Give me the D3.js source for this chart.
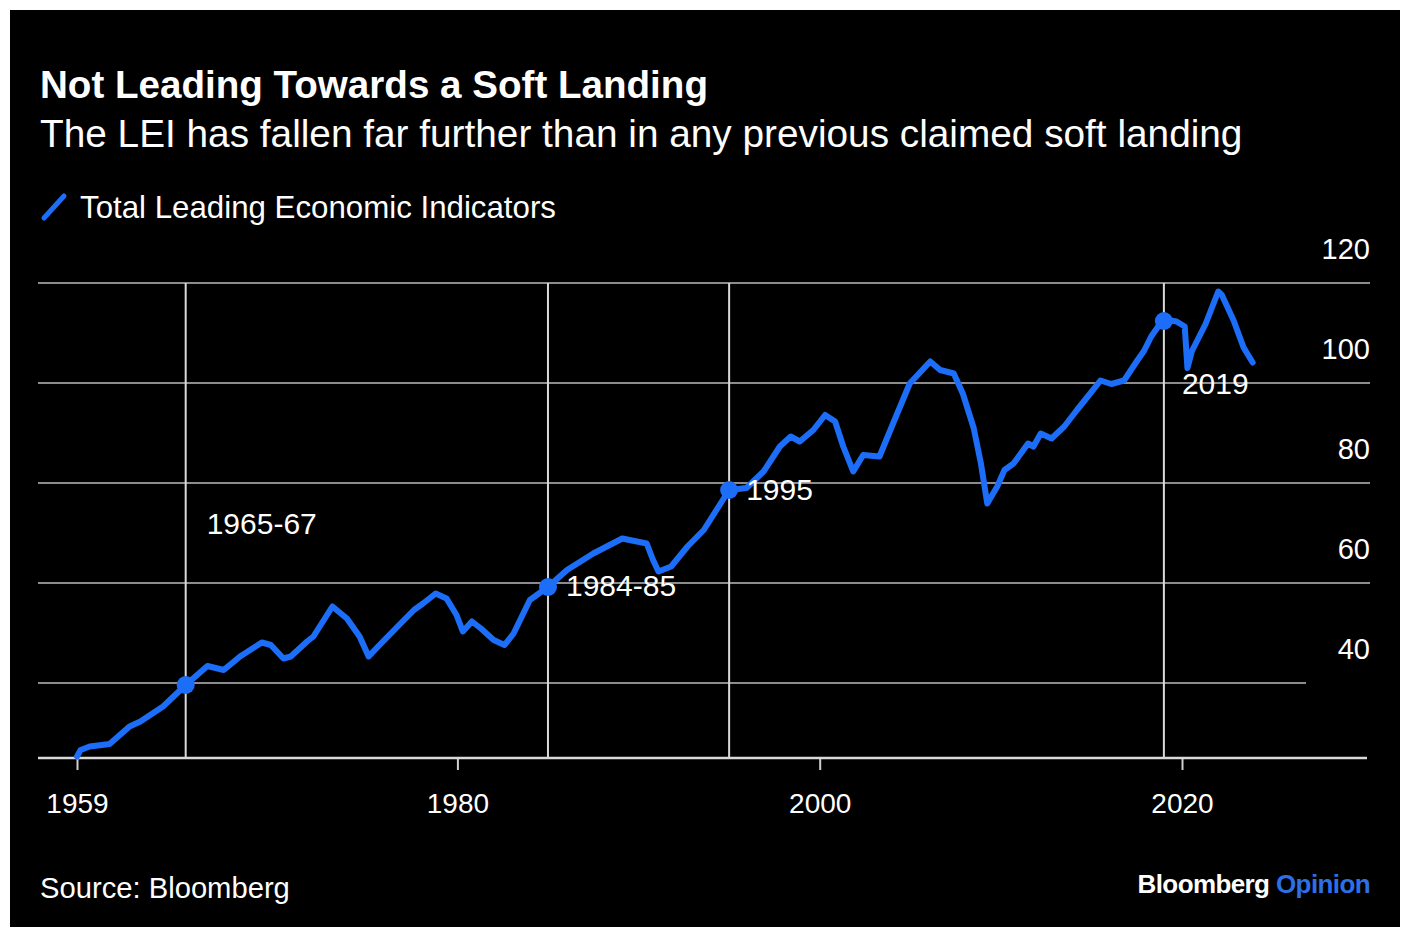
<!DOCTYPE html>
<html>
<head>
<meta charset="utf-8">
<script src="https://cdn.jsdelivr.net/npm/d3@7"></script>
<style>
  html, body { margin: 0; padding: 0; background: #ffffff; }
  svg { display: block; }
  text { font-family: "Liberation Sans", Arial, Helvetica, sans-serif; }
</style>
</head>
<body>
<svg id="chart" width="1403" height="930"></svg>
<script>
// ---------------- DATA ----------------
const title = "Not Leading Towards a Soft Landing";
const subtitle = "The LEI has fallen far further than in any previous claimed soft landing";
const seriesName = "Total Leading Economic Indicators";
const source = "Source: Bloomberg";

// decimal years and index values
const years = [1959.0, 1959.2, 1959.7, 1960.8, 1961.9, 1962.5, 1963.75, 1965.0, 1966.2, 1967.1,
  1968.0, 1969.2, 1969.7, 1970.4, 1970.8, 1971.7, 1972.05, 1973.1, 1973.9, 1974.6,
  1975.1, 1975.7, 1976.7, 1977.6, 1978.1, 1978.8, 1979.4, 1979.95, 1980.3, 1980.8,
  1981.3, 1982.0, 1982.6, 1983.1, 1984.0, 1985.0, 1986.05, 1987.5, 1989.1, 1990.45,
  1990.8, 1991.1, 1991.8, 1992.7, 1993.6, 1994.3, 1995.0, 1995.96, 1996.9, 1997.8,
  1998.4, 1998.9, 1999.65, 2000.3, 2000.85, 2001.3, 2001.85, 2002.4, 2003.3, 2004.05,
  2004.97, 2006.1, 2006.65, 2007.4, 2007.9, 2008.5, 2008.9, 2009.25, 2009.8, 2010.2,
  2010.7, 2011.5, 2011.8, 2012.2, 2012.8, 2013.5, 2014.2, 2014.8, 2015.5, 2016.1,
  2016.8, 2017.55, 2017.9, 2018.3, 2018.8, 2019.2, 2019.7, 2020.15, 2020.3, 2020.55,
  2021.3, 2022.0, 2022.2, 2022.85, 2023.4, 2023.9];
const lei = [25.3, 26.6, 27.3, 27.8, 31.3, 32.3, 35.3, 39.6, 43.4, 42.6,
  45.3, 48.1, 47.6, 44.9, 45.3, 48.3, 49.3, 55.3, 52.9, 49.3,
  45.3, 47.6, 51.3, 54.6, 55.9, 57.9, 56.9, 53.6, 50.3, 52.3,
  50.9, 48.6, 47.6, 49.9, 56.6, 59.2, 62.6, 65.9, 68.9, 67.9,
  64.6, 62.3, 63.3, 67.3, 70.6, 74.6, 78.6, 79.0, 82.3, 87.3,
  89.3, 88.3, 90.6, 93.6, 92.3, 87.3, 82.3, 85.6, 85.3, 91.9,
  99.9, 104.3, 102.6, 101.9, 97.9, 91.0, 83.9, 75.9, 79.3, 82.6,
  83.9, 87.9, 87.3, 89.9, 88.9, 91.3, 94.6, 97.3, 100.5, 99.8,
  100.5, 104.6, 106.4, 109.3, 111.9, 112.6, 112.3, 111.3, 103.0, 106.4,
  111.8, 118.3, 117.6, 112.5, 107.1, 104.1];

// claimed soft landings
const landingYears = [1965, 1985, 1995, 2019];
const landingLabels = ["1965-67", "1984-85", "1995", "2019"];
const landingValues = [39.6, 59.2, 78.6, 112.4];

// axes
const xTicks = [1959, 1980, 2000, 2020];
const yTicks = [40, 60, 80, 100, 120];

// ---------------- LAYOUT ----------------
const W = 1403, H = 930;
const BLUE = "#1c6ef8";
const svg = d3.select("#chart");

svg.append("rect").attr("x", 0).attr("y", 0).attr("width", W).attr("height", H).attr("fill", "#ffffff");
svg.append("rect").attr("x", 10).attr("y", 10).attr("width", 1390).attr("height", 917).attr("fill", "#000000");

const x = d3.scaleLinear().domain([1959, 2020]).range([77, 1182]);
const y = d3.scaleLinear().domain([25, 120]).range([758, 283]);

function fit(sel, targetWidth) {
  const w = sel.node().getComputedTextLength();
  const fs = parseFloat(sel.attr("font-size"));
  sel.attr("font-size", (fs * targetWidth / w).toFixed(2));
  return sel;
}

// Title, subtitle
fit(svg.append("text").attr("x", 40).attr("y", 98).attr("fill", "#fff")
  .attr("font-weight", "bold").attr("font-size", 36).text(title), 668);
fit(svg.append("text").attr("x", 40).attr("y", 147).attr("fill", "#fff")
  .attr("font-size", 34).text(subtitle), 1203);

// Legend
svg.append("line").attr("x1", 44).attr("y1", 218).attr("x2", 64).attr("y2", 196)
  .attr("stroke", BLUE).attr("stroke-width", 5).attr("stroke-linecap", "round");
fit(svg.append("text").attr("x", 80).attr("y", 218).attr("fill", "#fff")
  .attr("font-size", 28).text(seriesName), 476);

// Horizontal gridlines
const gridG = svg.append("g");
yTicks.forEach(v => {
  gridG.append("line")
    .attr("x1", 38).attr("x2", v === 40 ? 1306 : 1370)
    .attr("y1", y(v)).attr("y2", y(v))
    .attr("stroke", "#8c8c8c").attr("stroke-width", 2);
  gridG.append("text")
    .attr("x", 1370).attr("y", y(v) - 24)
    .attr("text-anchor", "end").attr("fill", "#fff")
    .attr("font-size", 29).text(v);
});

// Vertical landing markers
landingYears.forEach(yr => {
  svg.append("line")
    .attr("x1", x(yr)).attr("x2", x(yr))
    .attr("y1", y(120)).attr("y2", y(25))
    .attr("stroke", "#d9d9d9").attr("stroke-width", 2);
});

// X axis
const xAxis = d3.axisBottom(x).tickValues(xTicks).tickFormat(d3.format("d"))
  .tickSize(12).tickPadding(23);
const xg = svg.append("g").attr("transform", `translate(0,${y(25)})`).call(xAxis);
xg.select(".domain").remove();
xg.selectAll(".tick line").attr("stroke", "#cfcfcf").attr("stroke-width", 2);
xg.selectAll(".tick text").attr("fill", "#fff").attr("font-size", 28)
  .attr("font-family", "'Liberation Sans', Arial, sans-serif");
svg.append("line").attr("x1", 38).attr("x2", 1367).attr("y1", y(25)).attr("y2", y(25))
  .attr("stroke", "#d9d9d9").attr("stroke-width", 2.5);

// Line
const pts = years.map((yr, i) => [yr, lei[i]]);
const line = d3.line().x(d => x(d[0])).y(d => y(d[1])).curve(d3.curveLinear);
svg.append("path").datum(pts).attr("d", line)
  .attr("fill", "none").attr("stroke", BLUE).attr("stroke-width", 6)
  .attr("stroke-linejoin", "round").attr("stroke-linecap", "round");

// Landing dots & labels (label offsets are layout only)
const labelOffsets = [[21, 534], [18, 596], [17, 500], [18, 394]];
landingYears.forEach((yr, i) => {
  svg.append("circle").attr("cx", x(yr)).attr("cy", y(landingValues[i]))
    .attr("r", 9).attr("fill", BLUE);
  svg.append("text")
    .attr("x", x(yr) + labelOffsets[i][0]).attr("y", labelOffsets[i][1])
    .attr("fill", "#fff").attr("font-size", 30)
    .text(landingLabels[i]);
});

// Footer
fit(svg.append("text").attr("x", 40).attr("y", 898).attr("fill", "#fff")
  .attr("font-size", 28).text(source), 250);
const brand = svg.append("text").attr("x", 1370).attr("y", 893)
  .attr("text-anchor", "end").attr("font-size", 26).attr("font-weight", "bold")
  .attr("letter-spacing", -0.6);
brand.append("tspan").attr("fill", "#fff").text("Bloomberg ");
brand.append("tspan").attr("fill", "#2c6fe6").text("Opinion");
</script>
</body>
</html>
